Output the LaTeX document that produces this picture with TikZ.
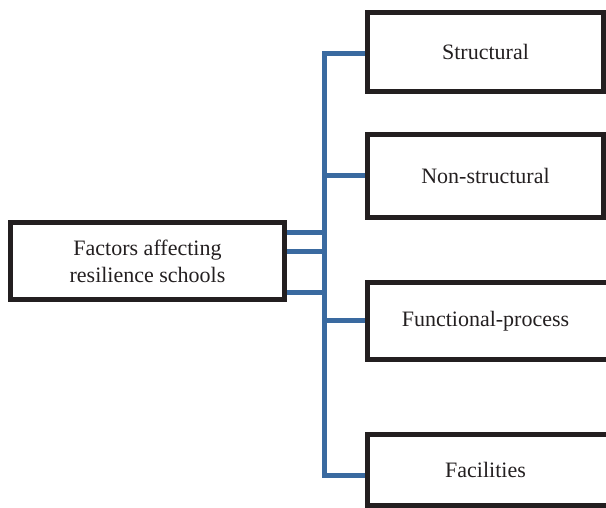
\documentclass[tikz,border=0pt]{standalone}
\usepackage{fontspec}
\setmainfont{Liberation Serif}
\usetikzlibrary{backgrounds}
\definecolor{conncol}{RGB}{58,106,160}
\definecolor{boxcol}{RGB}{35,31,32}
\tikzset{
  box/.style={draw=boxcol, line width=5pt, rectangle, inner sep=0pt, align=center,
    font=\fontsize{22}{27}\selectfont, text=boxcol},
  openbox/.style={box, draw=none, outer sep=0pt},
  conn/.style={draw=conncol, line width=5pt, line join=miter, line cap=butt},
  border/.style={draw=boxcol, line width=5pt, line join=miter},
}
\begin{document}
\begin{tikzpicture}[x=1pt,y=-1pt]
\useasboundingbox (0,0) rectangle (606,507);
\node[box, minimum width=274pt, minimum height=77pt] (L) at (147.5,261) {Factors affecting\\resilience schools};
\node[box, minimum width=236pt, minimum height=79pt] (b1) at (485.5,52) {Structural};
\node[box, minimum width=236pt, minimum height=83pt] (b2) at (485.5,176) {Non-structural};
\node[openbox, minimum width=236pt, minimum height=77pt] (b3) at (485.5,321) {Functional-process};
\node[openbox, minimum width=236pt, minimum height=71pt] (b4) at (485.5,470) {Facilities};
\draw[border] ([xshift=12pt]b3.north east) -- (b3.north west) -- (b3.south west) -- ([xshift=12pt]b3.south east);
\draw[border] ([xshift=12pt]b4.north east) -- (b4.north west) -- (b4.south west) -- ([xshift=12pt]b4.south east);
\coordinate (bus) at (324.5,475);
\begin{scope}[on background layer]
\draw[conn] ([yshift=-1pt]b1.west) -| (bus) -- ([yshift=-5pt]b4.west);
\draw[conn] ([yshift=0.5pt]b2.west) -- ([yshift=0.5pt]b2.west -| bus);
\draw[conn] ([yshift=0.5pt]b3.west) -- ([yshift=0.5pt]b3.west -| bus);
\draw[conn] ([yshift=29pt]L.east) -- ([yshift=29pt]L.east -| bus);
\draw[conn] ([yshift=9.5pt]L.east) -- ([yshift=9.5pt]L.east -| bus);
\draw[conn] ([yshift=-31pt]L.east) -- ([yshift=-31pt]L.east -| bus);
\end{scope}
\end{tikzpicture}
\end{document}
